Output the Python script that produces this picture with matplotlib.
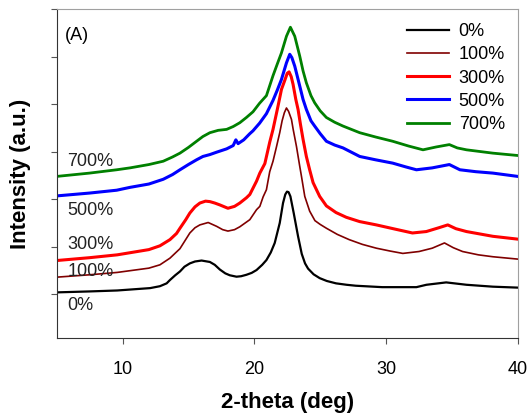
import matplotlib
matplotlib.use('Agg')
import matplotlib.pyplot as plt

plt.rcParams['font.family'] = ['Liberation Sans', 'DejaVu Sans']

# values (y in offset units, one unit per y tick)
x_0 = [5.0, 7.5, 9.6, 12.1, 12.84, 13.35, 13.6, 14.0, 14.36, 14.7, 15.11, 15.5, 16.0, 16.63,
       17.0, 17.39, 17.8, 18.14, 18.65, 19.0, 19.4, 19.8, 20.17, 20.6, 20.92, 21.25, 21.55,
       21.93, 22.18, 22.35, 22.48, 22.6, 22.74, 22.99, 23.32, 23.6, 23.85, 24.08, 24.5,
       24.96, 25.5, 26.2, 27.0, 27.7, 29.7, 32.3, 33.06, 34.56, 36.1, 38.1, 40.0]
y_0 = [0.04, 0.06, 0.08, 0.13, 0.17, 0.23, 0.30, 0.40, 0.48, 0.58, 0.65, 0.69, 0.71, 0.68,
       0.62, 0.52, 0.44, 0.40, 0.37, 0.38, 0.41, 0.45, 0.51, 0.62, 0.72, 0.88, 1.08,
       1.50, 1.92, 2.10, 2.16, 2.15, 2.06, 1.71, 1.22, 0.85, 0.65, 0.54, 0.42,
       0.34, 0.28, 0.23, 0.20, 0.18, 0.15, 0.15, 0.20, 0.25, 0.20, 0.16, 0.14]

x_100 = [5.0, 7.5, 9.6, 12.0, 12.84, 13.6, 14.36, 15.11, 15.5, 15.87, 16.5, 17.14, 17.6, 18.0,
         18.5, 18.9, 19.66, 20.17, 20.42, 20.67, 20.92, 21.17, 21.42, 21.68, 21.93, 22.11,
         22.28, 22.44, 22.6, 22.82, 22.95, 23.2, 23.45, 23.58, 23.83, 24.2, 24.6, 25.0,
         25.47, 26.3, 27.2, 28.2, 29.26, 30.3, 31.27, 32.5, 33.5, 34.43, 35.1, 35.8, 37.0,
         38.1, 40.0]
y_100 = [0.36, 0.41, 0.46, 0.55, 0.62, 0.76, 0.96, 1.29, 1.40, 1.46, 1.51, 1.43, 1.36, 1.33,
         1.36, 1.42, 1.57, 1.78, 1.85, 2.05, 2.20, 2.58, 2.80, 3.10, 3.40, 3.65,
         3.82, 3.92, 3.85, 3.68, 3.47, 3.11, 2.69, 2.48, 2.06, 1.75, 1.55, 1.47,
         1.39, 1.26, 1.15, 1.05, 0.97, 0.91, 0.86, 0.90, 0.97, 1.08, 0.98, 0.90, 0.83,
         0.79, 0.74]

x_300 = [5.0, 7.5, 9.6, 12.0, 12.84, 13.6, 14.1, 14.36, 14.8, 15.11, 15.5, 15.87, 16.3, 16.63,
         17.0, 17.39, 18.0, 18.5, 18.9, 19.4, 19.66, 20.17, 20.42, 20.8, 21.17, 21.42, 21.8,
         22.06, 22.31, 22.5, 22.64, 22.8, 22.94, 23.15, 23.32, 23.5, 23.7, 23.95, 24.2,
         24.46, 24.96, 25.47, 26.2, 26.98, 27.99, 29.26, 30.7, 32.0, 33.05, 34.0, 34.68,
         35.3, 36.1, 38.1, 40.0]
y_300 = [0.71, 0.77, 0.83, 0.94, 1.02, 1.15, 1.28, 1.39, 1.57, 1.71, 1.84, 1.92, 1.96, 1.95,
         1.92, 1.88, 1.81, 1.85, 1.92, 2.03, 2.10, 2.38, 2.55, 2.75, 3.20, 3.47, 3.96,
         4.31, 4.50, 4.65, 4.68, 4.58, 4.42, 4.10, 3.89, 3.58, 3.26, 2.90, 2.62,
         2.35, 2.06, 1.86, 1.72, 1.62, 1.53, 1.46, 1.37, 1.29, 1.32, 1.40, 1.46,
         1.38, 1.32, 1.22, 1.16]

x_500 = [5.0, 7.5, 9.56, 10.57, 12.0, 13.09, 13.8, 14.36, 15.0, 15.62, 16.1, 16.63, 17.14,
         17.9, 18.4, 18.6, 18.77, 19.2, 19.66, 19.9, 20.4, 20.92, 21.42, 21.75, 22.06, 22.44,
         22.69, 22.85, 23.07, 23.45, 23.7, 23.95, 24.3, 24.58, 25.0, 25.47, 26.1, 26.73,
         28.0, 29.2, 30.5, 31.5, 32.3, 33.5, 34.8, 35.6, 36.8, 38.1, 40.0]
y_500 = [2.07, 2.13, 2.19, 2.25, 2.32, 2.42, 2.52, 2.62, 2.73, 2.83, 2.90, 2.94, 2.99,
         3.06, 3.13, 3.25, 3.17, 3.25, 3.38, 3.44, 3.60, 3.80, 4.08, 4.30, 4.52, 4.87,
         5.05, 4.98, 4.80, 4.38, 4.10, 3.89, 3.65, 3.54, 3.38, 3.22, 3.14, 3.08,
         2.90, 2.83, 2.76, 2.68, 2.62, 2.66, 2.73, 2.62, 2.58, 2.55, 2.48]

x_700 = [5.0, 7.5, 9.56, 10.57, 12.0, 13.09, 13.8, 14.36, 15.0, 15.62, 16.1, 16.63, 17.26,
         17.9, 18.4, 18.9, 19.4, 19.9, 20.4, 20.92, 21.42, 21.75, 22.06, 22.44, 22.74, 23.07,
         23.45, 23.7, 23.95, 24.3, 24.58, 25.0, 25.47, 26.1, 26.73, 28.0, 29.2, 30.5, 31.7,
         32.8, 33.8, 34.8, 35.4, 36.1, 38.1, 40.0]
y_700 = [2.48, 2.55, 2.62, 2.66, 2.73, 2.80, 2.89, 2.97, 3.09, 3.22, 3.32, 3.40, 3.45,
         3.47, 3.53, 3.61, 3.72, 3.84, 4.02, 4.18, 4.60, 4.85, 5.08, 5.43, 5.62, 5.43,
         5.01, 4.70, 4.45, 4.18, 4.03, 3.86, 3.72, 3.62, 3.54, 3.40, 3.31, 3.22, 3.12,
         3.04, 3.10, 3.15, 3.08, 3.04, 2.97, 2.92]

labels = ['0%', '100%', '300%', '500%', '700%']
label_y = [-0.23, 0.47, 1.04, 1.77, 2.79]
colors = ['black', '#800000', '#FF0000', '#0000FF', '#008000']
widths = [1.6, 1.2, 2.2, 2.2, 2.0]

fig = plt.figure(figsize=(5.29, 4.16), dpi=100)
ax = fig.add_axes([0.107, 0.1875, 0.872, 0.7905])

series = [(x_0, y_0), (x_100, y_100), (x_300, y_300), (x_500, y_500), (x_700, y_700)]
for (xs, ys), lab, c, lw in zip(series, labels, colors, widths):
    ax.plot(xs, ys, color=c, lw=lw, label=lab)

for lab, ly in zip(labels, label_y):
    ax.text(5.8, ly, lab, fontsize=13, ha='left', va='center', color='#222222')

ax.text(0.018, 0.921, '(A)', transform=ax.transAxes, fontsize=13, ha='left', va='center')

ax.set_xlim(5, 40)
ax.set_ylim(-0.92, 6.0)
ax.set_xticks([10, 20, 30, 40])
ax.set_yticks(range(0, 7))
ax.set_yticklabels([])
ax.tick_params(axis='x', direction='out', length=4, pad=12.5, labelsize=13, color='#555555')
ax.tick_params(axis='y', direction='out', length=4, color='#555555')

for s in ['top', 'right']:
    ax.spines[s].set_color('#a0a0a0')
for s in ['left', 'bottom']:
    ax.spines[s].set_color('#333333')

ax.set_xlabel('2-theta (deg)', fontsize=16, fontweight='bold', labelpad=10)
ax.set_ylabel('Intensity (a.u.)', fontsize=16, fontweight='bold', labelpad=11)

ax.legend(loc='upper right', bbox_to_anchor=(0.972, 0.957), frameon=False, fontsize=13,
          borderpad=0, borderaxespad=0, handlelength=2.3, handletextpad=0.55, labelspacing=0.34)

plt.savefig('out.png', dpi=100)
